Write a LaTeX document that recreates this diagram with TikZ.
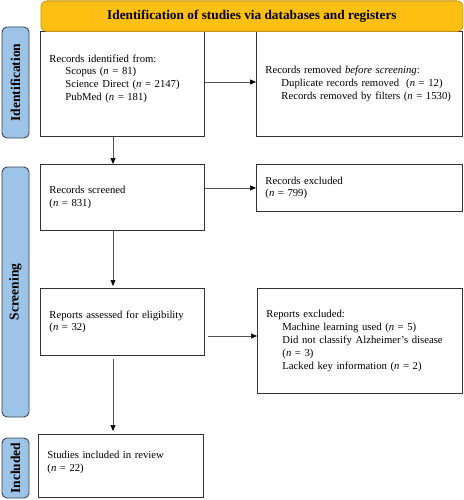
\documentclass[tikz,border=0pt]{standalone}
\usepackage{fontspec}
\setmainfont{Liberation Serif}
\usetikzlibrary{arrows.meta,calc}
\definecolor{sideblue}{RGB}{157,195,230}
\definecolor{sideborder}{RGB}{60,70,85}
\definecolor{hdrfill}{RGB}{253,191,18}
\definecolor{hdrborder}{RGB}{196,146,20}
\definecolor{boxline}{RGB}{50,50,50}
\definecolor{arrline}{RGB}{80,80,80}
\begin{document}
\begin{tikzpicture}[x=1pt,y=-1pt,
  box/.style={draw=boxline, line width=0.9pt, anchor=north west, align=left,
    inner xsep=9pt, inner ysep=0pt, font=\fontsize{10.7}{12.8}\selectfont},
  side/.style={draw=sideborder, fill=sideblue, rounded corners=5pt, line width=0.9pt,
    rotate=90, minimum height=27pt, inner sep=0pt, font=\fontsize{13.5}{15}\selectfont\bfseries},
  arr/.style={draw=arrline, line width=0.7pt, -{Triangle[length=6pt,width=5pt,color=black]}},
  hdrbox/.style={draw=hdrborder, fill=hdrfill, rounded corners=6pt, line width=0.8pt,
    anchor=north west, inner sep=0pt, font=\fontsize{13.3}{15}\selectfont\bfseries}
]
\useasboundingbox (0,0) rectangle (463,500);

% side labels
\node[side, minimum width=111pt] (sid) at (15.5,82.5) {Identification};
\node[side, minimum width=250pt] (sscr) at (15.5,292) {Screening};
\node[side, minimum width=60pt] (sinc) at (15.5,468) {Included};

% boxes
\node[box, minimum width=164pt, minimum height=105pt, text width=146pt] (b1) at (40,31)
  {Records identified from:\\%
   \hspace*{16pt}Scopus (\textit{n} = 81)\\%
   \hspace*{16pt}Science Direct (\textit{n} = 2147)\\%
   \hspace*{16pt}PubMed (\textit{n} = 181)\\%
   \mbox{}};
\node[box, minimum width=206pt, minimum height=105pt, text width=188pt] (b2) at (256,31)
  {\mbox{Records removed \textit{before screening}:}\\%
   \hspace*{16pt}\mbox{Duplicate records removed\ \ (\textit{n} = 12)}\\%
   \hspace*{16pt}\mbox{Records removed by filters (\textit{n} = 1530)}};
\node[box, minimum width=164pt, minimum height=66pt, text width=146pt] (b3) at (40,164)
  {Records screened\\(\textit{n} = 831)};
\node[box, minimum width=206pt, minimum height=47pt, text width=188pt] (b4) at (256,164)
  {Records excluded\\(\textit{n} = 799)};
\node[box, minimum width=164pt, minimum height=67pt, text width=146pt] (b5) at (40,288)
  {\mbox{Reports assessed for eligibility}\\(\textit{n} = 32)};
\node[box, minimum width=205pt, minimum height=105pt, text width=187pt] (b6) at (257,288)
  {Reports excluded:\\%
   \hspace*{16pt}\mbox{Machine learning used (\textit{n} = 5)}\\%
   \hspace*{16pt}\mbox{Did not classify Alzheimer’s disease}\\%
   \hspace*{16pt}(\textit{n} = 3)\\%
   \hspace*{16pt}\mbox{Lacked key information (\textit{n} = 2)}};
\node[box, minimum width=165pt, minimum height=63pt, text width=147pt] (b7) at (38,434)
  {Studies included in review\\(\textit{n} = 22)\\[-2.8pt]\mbox{}};

% header
\node[hdrbox, minimum width=422pt, minimum height=30.5pt] (hdr) at (40.5,0.5)
  {Identification of studies via databases and registers};

% connectors
\draw[arr] (b1.east |- 0,82) -- (b2.west |- 0,82);
\draw[arr] (b3.east |- b4.west) -- (b4.west);
\draw[arr] ([xshift=3pt]b5.east |- 0,336) -- (b6.west |- 0,336);
\draw[arr] (b1.south -| 113,0) -- (b3.north -| 113,0);
\draw[arr, shorten >=2pt] (b3.south -| 113,0) -- (b5.north -| 113,0);
\draw[arr, shorten <=3pt, shorten >=3pt] (b5.south -| 113,0) -- (b7.north -| 113,0);
\end{tikzpicture}
\end{document}
